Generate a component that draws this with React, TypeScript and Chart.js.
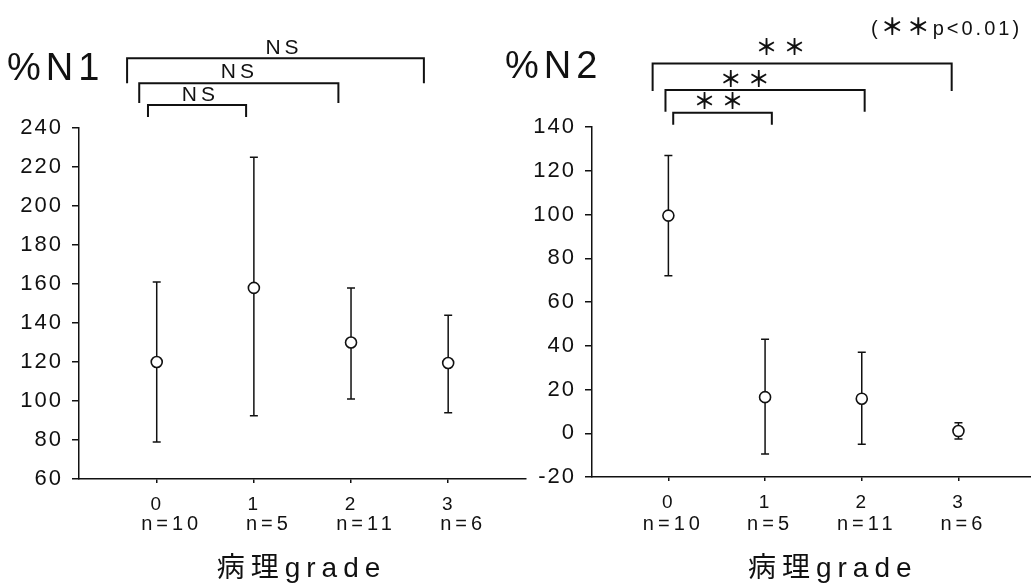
import React, { useEffect, useRef } from "react";
import { Chart, registerables } from "chart.js";

Chart.register(...registerables);

// ---------- data ----------
const grades = [0, 1, 2, 3];
const nLabels = ["n=10", "n=5", "n=11", "n=6"];

const n1Mean = [120, 158, 130, 119.5];
const n1Low = [79, 92.5, 101, 94];
const n1High = [161, 225, 158, 144];

const n2Mean = [99.5, 16.5, 15.8, 1];
const n2Low = [72, -9.5, -5, -2.6];
const n2High = [127, 43, 37, 4.8];

const n1YTicks = [60, 80, 100, 120, 140, 160, 180, 200, 220, 240];
const n2YTicks = [-20, 0, 20, 40, 60, 80, 100, 120, 140];

const n1SigLabels = ["NS", "NS", "NS"];
const n2SigLabels = ["＊＊", "＊＊", "＊＊"];

// ---------- annotation geometry (data units) ----------
const n1Brackets = [
  { x1: -0.09, x2: 0.92, top: 251.8, foot: 245.6, lx: 0.45, ly: 253.8 },
  { x1: -0.18, x2: 1.87, top: 263, foot: 252.8, lx: 0.85, ly: 265.6 },
  { x1: -0.305, x2: 2.75, top: 275.8, foot: 263, lx: 1.31, ly: 277.8 },
];
const n2Brackets = [
  { x1: 0.05, x2: 1.07, top: 146.5, foot: 141, lx: 0.55, ly: 148.2 },
  { x1: -0.03, x2: 2.03, top: 156.9, foot: 147, lx: 0.82, ly: 158.4 },
  { x1: -0.163, x2: 2.93, top: 169, foot: 156.5, lx: 1.19, ly: 172.7 },
];

const INK = "#111111";
const FONT = "'Liberation Sans', Arial, sans-serif";
const CJK = "'Noto Sans CJK JP'";

function spaced(ctx: any, px: number) {
  if ("letterSpacing" in ctx) ctx.letterSpacing = px + "px";
}

function makePlugin(cfg: any) {
  return {
    id: "deco",
    beforeDraw(chart: any) {
      spaced(chart.ctx, 2);
    },
    beforeDatasetsDraw(chart: any) {
      const ctx = chart.ctx;
      const xs = chart.scales.x;
      const ys = chart.scales.y;
      ctx.save();
      ctx.strokeStyle = INK;
      ctx.lineWidth = 1.5;
      grades.forEach((g, i) => {
        const px = xs.getPixelForValue(g);
        const yl = ys.getPixelForValue(cfg.low[i]);
        const yh = ys.getPixelForValue(cfg.high[i]);
        ctx.beginPath();
        ctx.moveTo(px, yl);
        ctx.lineTo(px, yh);
        ctx.moveTo(px - 4, yl);
        ctx.lineTo(px + 4, yl);
        ctx.moveTo(px - 4, yh);
        ctx.lineTo(px + 4, yh);
        ctx.stroke();
      });
      ctx.restore();
    },
    afterDraw(chart: any) {
      const ctx = chart.ctx;
      const xs = chart.scales.x;
      const ys = chart.scales.y;
      ctx.save();
      ctx.fillStyle = INK;
      ctx.strokeStyle = INK;

      // brackets
      ctx.lineWidth = 2;
      cfg.brackets.forEach((b: any, i: number) => {
        const x1 = xs.getPixelForValue(b.x1);
        const x2 = xs.getPixelForValue(b.x2);
        const t = ys.getPixelForValue(b.top);
        const f = ys.getPixelForValue(b.foot);
        ctx.beginPath();
        ctx.moveTo(x1, f);
        ctx.lineTo(x1, t);
        ctx.lineTo(x2, t);
        ctx.lineTo(x2, f);
        ctx.stroke();
        ctx.font = cfg.sigFont;
        spaced(ctx, cfg.sigSpacing);
        ctx.textAlign = "center";
        ctx.textBaseline = "alphabetic";
        ctx.fillText(cfg.sig[i], xs.getPixelForValue(b.lx), ys.getPixelForValue(b.ly));
      });

      // panel title
      ctx.font = "38px " + FONT;
      spaced(ctx, 5);
      ctx.textAlign = "left";
      ctx.textBaseline = "alphabetic";
      ctx.fillText(cfg.title, cfg.titleX, cfg.titleY);

      // n labels
      ctx.font = "20px " + FONT;
      spaced(ctx, 4);
      ctx.textAlign = "center";
      grades.forEach((g, i) => {
        ctx.fillText(nLabels[i], xs.getPixelForValue(g) + cfg.nShift, 530);
      });

      // axis title
      ctx.font = "28px " + FONT + ", " + CJK;
      spaced(ctx, 6);
      ctx.textAlign = "center";
      ctx.fillText("病理grade", xs.getPixelForValue(cfg.axisTitleX), 577);

      // p-value note
      if (cfg.note) {
        let x = cfg.note.x;
        const y = cfg.note.y;
        ctx.textAlign = "left";
        const parts = [
          { t: "(", f: "20px " + FONT },
          { t: "＊＊", f: "bold 23px " + CJK },
          { t: "p<0.01)", f: "20px " + FONT },
        ];
        spaced(ctx, 3);
        parts.forEach((p) => {
          ctx.font = p.f;
          ctx.fillText(p.t, x, y);
          x += ctx.measureText(p.t).width;
        });
      }
      ctx.restore();
    },
  };
}

function buildConfig(opts: any) {
  return {
    type: "scatter",
    data: {
      datasets: [
        {
          data: grades.map((g, i) => ({ x: g, y: opts.mean[i] })),
          pointRadius: 5.5,
          pointBackgroundColor: "#ffffff",
          pointBorderColor: INK,
          pointBorderWidth: 1.6,
          showLine: false,
        },
      ],
    },
    options: {
      responsive: false,
      animation: false,
      devicePixelRatio: 1,
      layout: { padding: { left: 0, top: opts.top, right: opts.right, bottom: 0 } },
      plugins: { legend: { display: false }, tooltip: { enabled: false } },
      scales: {
        x: {
          type: "linear",
          min: opts.xMin,
          max: opts.xMax,
          afterBuildTicks: (a: any) => {
            a.ticks = grades.map((v) => ({ value: v }));
          },
          afterFit: (a: any) => {
            a.height = opts.xHeight;
          },
          grid: {
            display: true,
            drawOnChartArea: false,
            drawTicks: true,
            tickLength: 4,
            color: INK,
            lineWidth: 1.5,
          },
          border: { display: true, color: INK, width: 1.5 },
          ticks: {
            color: INK,
            font: { family: FONT, size: 19 },
            padding: 10,
            maxRotation: 0,
            autoSkip: false,
            callback: (v: any) => String(v),
          },
        },
        y: {
          type: "linear",
          min: opts.yTicks[0],
          max: opts.yTicks[opts.yTicks.length - 1],
          afterBuildTicks: (a: any) => {
            a.ticks = opts.yTicks.map((v: number) => ({ value: v }));
          },
          afterFit: (a: any) => {
            a.width = opts.yWidth;
          },
          grid: {
            display: true,
            drawOnChartArea: false,
            drawTicks: true,
            tickLength: 7,
            color: INK,
            lineWidth: 1.5,
          },
          border: { display: true, color: INK, width: 1.5 },
          ticks: {
            color: INK,
            font: { family: FONT, size: 22 },
            padding: 9,
            autoSkip: false,
            callback: (v: any) => String(v),
          },
        },
      },
    },
    plugins: [makePlugin(opts.deco)],
  };
}

function Panel(props: any) {
  const ref = useRef<HTMLCanvasElement | null>(null);
  useEffect(() => {
    if (!ref.current) return;
    const chart = new Chart(ref.current, buildConfig(props.opts) as any);
    return () => chart.destroy();
  }, []);
  return (
    <canvas
      ref={ref}
      width={props.width}
      height={585}
      style={{ position: "absolute", left: props.left, top: 0, width: props.width, height: 585 }}
    />
  );
}

export default function App() {
  const left = {
    mean: n1Mean,
    yTicks: n1YTicks,
    top: 128,
    right: 0,
    xMin: -0.8,
    xMax: 3.8,
    xHeight: 106,
    yWidth: 79,
    deco: {
      low: n1Low,
      high: n1High,
      brackets: n1Brackets,
      sig: n1SigLabels,
      sigFont: "21px " + FONT,
      sigSpacing: 4,
      title: "%N1",
      titleX: 7,
      titleY: 80,
      nShift: 15,
      axisTitleX: 1.49,
      note: null,
    },
  };
  const right = {
    mean: n2Mean,
    yTicks: n2YTicks,
    top: 127,
    right: 0,
    xMin: -0.79,
    xMax: 3.77,
    xHeight: 108,
    yWidth: 102,
    deco: {
      low: n2Low,
      high: n2High,
      brackets: n2Brackets,
      sig: n2SigLabels,
      sigFont: "bold 22px " + CJK,
      sigSpacing: 6,
      title: "%N2",
      titleX: 15,
      titleY: 78,
      nShift: 5,
      axisTitleX: 1.7,
      note: { x: 381, y: 35 },
    },
  };
  return (
    <div style={{ position: "absolute", left: 0, top: 0, width: 1031, height: 585, background: "#fff", overflow: "hidden" }}>
      <Panel opts={left} left={0} width={533} />
      <Panel opts={right} left={490} width={550} />
    </div>
  );
}
